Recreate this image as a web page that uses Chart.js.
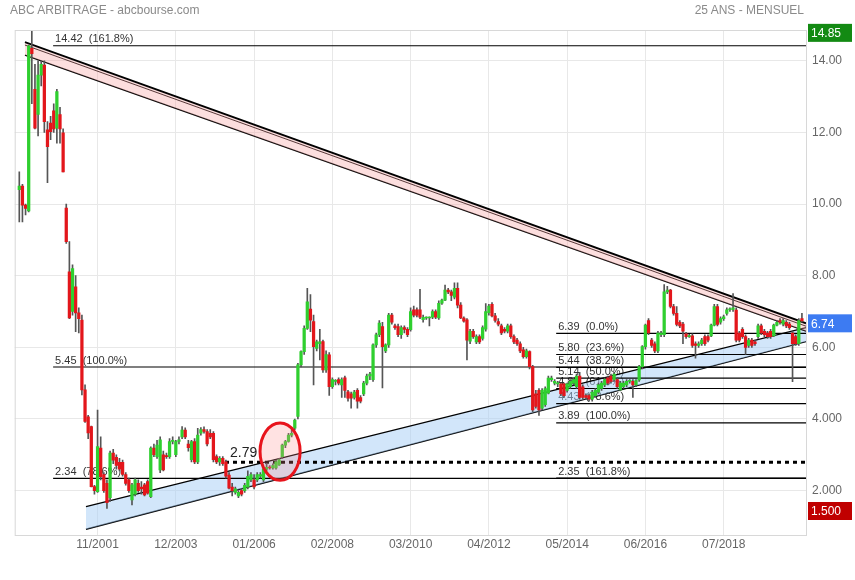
<!DOCTYPE html>
<html>
<head>
<meta charset="utf-8">
<script src="https://cdn.jsdelivr.net/npm/chart.js@4.4.0/dist/chart.umd.min.js"></script>
<style>
    html, body { margin: 0; padding: 0; background: #fff; }
    #wrap { position: relative; width: 855px; height: 580px; }
    .hdr { position: absolute; top: 3px; font: 12px "Liberation Sans", Arial, sans-serif; color: #8a8a8a; }
</style>
</head>
<body>
<div id="wrap">
    <canvas id="chart" width="855" height="580"></canvas>
    <div class="hdr" style="left:10px">ABC ARBITRAGE - abcbourse.com</div>
    <div class="hdr" style="right:51px">25 ANS - MENSUEL</div>
</div>
<script>
// cours mensuels, index 0 = 10/1999
const open = [
    10.4, 10.5, 9.97, 9.81, 14.35, 13.2, 12.5, 13.6, 13.88, 12.07,
    12.26, 12.6, 12.12, 12.5, 11.99, 9.89, 8.11, 7.0, 7.69, 6.96,
    6.76, 4.81, 4.06, 3.79, 2.11, 1.97, 3.19, 2.45, 2.2, 1.8,
    3.05, 2.93, 2.79, 2.79, 2.45, 2.3, 1.74, 1.9, 2.2, 2.1,
    2.16, 2.25, 1.83, 3.19, 2.95, 2.58, 3.0, 2.98, 2.95, 3.37,
    3.0, 3.37, 3.5, 3.69, 3.3, 2.86, 3.37, 2.8, 3.6, 3.7,
    3.65, 3.6, 3.6, 2.95, 2.8, 2.9, 2.8, 2.43, 2.1, 1.95,
    1.85, 2.0, 2.0, 2.1, 2.3, 2.3, 2.3, 2.4, 2.3, 2.6,
    2.65, 2.63, 2.63, 2.72, 2.95, 3.27, 3.37, 3.55, 3.74, 4.07,
    5.51, 5.88, 6.53, 7.07, 6.72, 5.97, 6.1, 6.16, 5.37, 5.79,
    4.9, 5.05, 5.1, 4.95, 5.15, 4.76, 4.7, 4.6, 4.8, 4.6,
    4.7, 5.0, 5.2, 5.1, 6.07, 6.35, 6.58, 5.9, 6.07, 6.9,
    6.6, 6.58, 6.35, 6.55, 6.5, 6.49, 7.05, 7.05, 7.05, 6.77,
    6.82, 6.82, 6.84, 7.0, 6.82, 7.23, 7.32, 7.6, 7.55, 7.4,
    7.65, 7.18, 6.82, 6.77, 6.17, 6.45, 6.15, 6.3, 6.25, 6.51,
    6.97, 7.2, 6.88, 6.72, 6.6, 6.5, 6.45, 6.6, 6.3, 6.2,
    6.1, 5.93, 5.74, 5.88, 5.46, 4.7, 4.8, 4.3, 4.4, 4.72,
    5.1, 5.0, 4.98, 4.98, 4.98, 4.8, 4.9, 5.0, 4.9, 5.2,
    4.9, 4.65, 4.65, 4.55, 4.65, 4.75, 4.85, 4.95, 5.15, 5.2,
    5.1, 5.1, 4.81, 4.9, 4.95, 5.05, 5.05, 4.95, 5.09, 5.46,
    6.02, 6.75, 6.2, 6.1, 5.9, 6.35, 6.35, 7.55, 7.6, 7.14,
    6.95, 6.7, 6.65, 6.38, 6.3, 6.32, 6.1, 6.05, 6.1, 6.3,
    6.3, 6.32, 6.62, 7.14, 6.7, 6.8, 6.95, 7.05, 7.06, 7.04,
    6.4, 6.5, 6.3, 6.05, 6.2, 6.15, 6.3, 6.6, 6.45, 6.4,
    6.45, 6.32, 6.62, 6.75, 6.65, 6.7, 6.65, 6.4, 6.3, 6.1,
    6.8
];
const high = [
    10.9, 10.55, 10.0, 14.44, 14.85, 13.9, 14.0, 14.0, 14.0, 12.3,
    12.45, 12.8, 13.2, 12.7, 12.1, 10.0, 8.95, 8.3, 8.0, 7.1,
    6.9, 4.95, 4.1, 3.8, 2.15, 4.25, 3.5, 2.5, 2.3, 3.1,
    3.15, 3.0, 2.9, 2.85, 2.5, 2.35, 2.2, 2.35, 2.3, 2.25,
    2.2, 2.3, 3.22, 3.3, 3.4, 3.5, 3.1, 3.05, 3.45, 3.5,
    3.4, 3.5, 3.79, 3.75, 3.4, 3.4, 3.45, 3.74, 3.76, 3.78,
    3.7, 3.7, 3.65, 3.0, 2.95, 2.95, 2.85, 2.5, 2.2, 2.1,
    2.0, 2.05, 2.2, 2.55, 2.5, 2.45, 2.5, 2.5, 2.65, 2.75,
    2.7, 2.75, 2.85, 2.9, 3.3, 3.4, 3.6, 3.7, 4.0, 5.55,
    5.9, 6.6, 7.65, 7.47, 6.9, 6.2, 6.5, 6.2, 5.9, 5.85,
    5.15, 5.1, 5.15, 5.15, 5.2, 4.8, 4.75, 4.8, 4.85, 4.65,
    5.05, 5.25, 5.3, 6.1, 6.4, 6.75, 6.7, 6.1, 6.95, 6.95,
    6.65, 6.65, 6.6, 6.6, 6.55, 7.1, 7.15, 7.1, 7.62, 6.9,
    6.85, 6.85, 7.05, 7.05, 7.3, 7.35, 7.74, 7.65, 7.6, 7.8,
    7.8, 7.25, 6.85, 6.8, 6.5, 6.5, 6.35, 6.35, 6.6, 7.22,
    7.2, 7.25, 6.95, 6.8, 6.65, 6.55, 6.65, 6.65, 6.35, 6.25,
    6.15, 6.0, 5.95, 5.9, 5.5, 4.8, 4.85, 4.85, 4.9, 5.2,
    5.2, 5.1, 5.05, 5.0, 5.0, 5.0, 5.1, 5.15, 5.25, 5.3,
    4.95, 4.7, 4.7, 4.8, 4.85, 5.0, 5.05, 5.15, 5.2, 5.25,
    5.3, 5.15, 5.05, 5.05, 5.1, 5.1, 5.1, 5.1, 5.5, 6.05,
    6.65, 6.8, 6.25, 6.15, 6.45, 6.45, 7.75, 7.7, 7.62, 7.2,
    7.14, 6.75, 6.7, 6.42, 6.36, 6.38, 6.15, 6.15, 6.25, 6.35,
    6.35, 6.65, 7.2, 7.2, 6.85, 6.9, 7.1, 7.1, 7.5, 7.1,
    6.45, 6.55, 6.35, 6.25, 6.25, 6.2, 6.65, 6.65, 6.5, 6.45,
    6.5, 6.65, 6.75, 6.8, 6.8, 6.75, 6.7, 6.45, 6.35, 6.8,
    6.95
];
const low = [
    9.5, 9.5, 9.7, 9.78, 12.8, 12.1, 11.9, 13.3, 12.0, 10.6,
    11.8, 12.0, 11.7, 11.7, 10.9, 8.9, 6.8, 6.9, 6.44, 6.4,
    4.67, 3.9, 3.45, 2.1, 1.9, 1.95, 2.3, 1.95, 1.5, 1.7,
    2.75, 2.6, 2.55, 2.4, 2.15, 1.95, 1.6, 1.85, 1.95, 1.9,
    1.85, 1.9, 1.8, 2.95, 2.9, 2.5, 2.55, 2.9, 2.9, 3.3,
    2.95, 3.3, 3.45, 3.45, 3.1, 2.8, 2.75, 2.75, 3.55, 3.6,
    3.25, 3.45, 2.8, 2.75, 2.7, 2.7, 2.35, 2.05, 1.85, 1.9,
    1.8, 1.85, 1.95, 2.05, 2.25, 2.05, 2.25, 2.35, 2.25, 2.55,
    2.6, 2.6, 2.6, 2.7, 2.9, 3.2, 3.35, 3.5, 3.7, 4.0,
    5.45, 5.8, 6.5, 6.44, 4.95, 5.9, 5.65, 5.3, 5.3, 4.66,
    4.85, 4.95, 4.95, 4.6, 4.6, 4.5, 4.3, 4.55, 4.3, 4.45,
    4.65, 4.95, 5.1, 5.05, 6.0, 6.3, 4.87, 5.85, 6.0, 6.65,
    6.5, 6.3, 6.25, 6.4, 6.3, 6.45, 6.85, 6.85, 6.8, 6.7,
    6.78, 6.6, 6.8, 6.8, 6.78, 7.2, 7.3, 7.5, 7.3, 7.35,
    7.1, 6.8, 6.7, 5.65, 6.1, 6.25, 6.1, 6.1, 6.2, 6.45,
    6.9, 6.85, 6.7, 6.6, 6.35, 6.4, 6.4, 6.25, 6.1, 6.05,
    5.85, 5.7, 5.7, 5.4, 4.2, 4.3, 4.1, 4.25, 4.35, 4.7,
    5.05, 4.95, 4.9, 4.65, 4.6, 4.75, 4.85, 4.95, 4.85, 4.55,
    4.55, 4.55, 4.5, 4.5, 4.6, 4.7, 4.8, 4.9, 4.95, 5.0,
    5.05, 4.85, 4.78, 4.85, 4.9, 5.0, 4.6, 4.9, 5.05, 5.4,
    5.95, 6.35, 6.0, 5.85, 5.85, 6.3, 6.3, 7.5, 7.1, 6.9,
    6.6, 6.55, 6.1, 6.25, 6.28, 6.0, 5.7, 6.0, 6.05, 6.05,
    6.15, 6.3, 6.6, 6.6, 6.65, 6.75, 6.9, 7.0, 7.0, 6.15,
    6.15, 6.25, 5.8, 6.0, 6.0, 6.05, 6.25, 6.35, 6.3, 6.25,
    6.25, 6.3, 6.6, 6.65, 6.6, 6.55, 6.5, 5.04, 6.05, 6.05,
    6.7
];
const close = [
    10.5, 9.97, 9.88, 14.42, 14.2, 12.12, 13.6, 13.9, 12.3, 11.6,
    12.02, 12.1, 13.14, 12.1, 10.9, 8.95, 6.82, 8.2, 6.96, 6.8,
    4.81, 3.93, 3.61, 2.11, 2.0, 3.23, 2.39, 2.0, 1.66, 3.05,
    2.85, 2.7, 2.6, 2.45, 2.2, 2.0, 2.16, 2.3, 2.0, 2.05,
    1.88, 1.93, 3.19, 3.0, 3.27, 3.42, 2.58, 2.95, 3.37, 3.4,
    3.37, 3.42, 3.69, 3.5, 3.2, 3.37, 2.8, 3.55, 3.7, 3.65,
    3.3, 3.5, 2.86, 2.8, 2.9, 2.75, 2.4, 2.07, 2.0, 2.05,
    1.95, 1.9, 2.15, 2.4, 2.45, 2.1, 2.45, 2.45, 2.6, 2.65,
    2.63, 2.7, 2.8, 2.86, 3.27, 3.37, 3.55, 3.6, 3.97, 5.51,
    5.88, 6.53, 7.27, 6.76, 6.02, 6.15, 6.15, 5.37, 5.8, 4.9,
    5.1, 5.07, 5.0, 5.1, 4.8, 4.58, 4.58, 4.75, 4.5, 4.5,
    5.0, 5.2, 5.25, 6.07, 6.35, 6.68, 6.02, 6.07, 6.9, 6.7,
    6.55, 6.35, 6.55, 6.5, 6.35, 7.0, 6.9, 6.9, 6.84, 6.84,
    6.83, 6.83, 7.0, 6.84, 7.23, 7.32, 7.6, 7.55, 7.45, 7.65,
    7.18, 6.82, 6.73, 6.2, 6.45, 6.3, 6.3, 6.15, 6.55, 7.0,
    7.15, 6.88, 6.75, 6.65, 6.4, 6.45, 6.6, 6.3, 6.15, 6.1,
    5.9, 5.74, 5.9, 5.46, 4.25, 4.35, 4.25, 4.8, 4.85, 5.14,
    5.14, 5.05, 5.0, 4.7, 4.65, 4.98, 5.05, 5.1, 5.2, 4.6,
    4.6, 4.6, 4.55, 4.75, 4.8, 4.95, 5.0, 5.1, 5.0, 5.05,
    5.25, 4.9, 5.0, 5.0, 5.05, 5.07, 4.95, 5.07, 5.46, 6.02,
    6.62, 6.4, 6.05, 5.9, 6.4, 6.4, 7.55, 7.6, 7.14, 6.95,
    6.64, 6.6, 6.45, 6.3, 6.32, 6.05, 6.05, 6.1, 6.2, 6.1,
    6.2, 6.62, 7.14, 6.64, 6.8, 6.85, 7.05, 7.06, 7.1, 6.2,
    6.2, 6.3, 6.0, 6.2, 6.05, 6.1, 6.6, 6.4, 6.35, 6.3,
    6.3, 6.62, 6.7, 6.7, 6.75, 6.6, 6.55, 6.1, 6.1, 6.75,
    6.74
];

const xTickMonths = [25, 50, 75, 100, 125, 150, 175, 200, 225];
const xTickLabels = ['11/2001', '12/2003', '01/2006', '02/2008', '03/2010', '04/2012', '05/2014', '06/2016', '07/2018'];
const yTicks = [2, 4, 6, 8, 10, 12, 14];
const yTickLabels = ['2.000', '4.000', '6.00', '8.00', '10.00', '12.00', '14.00'];

// retracements de Fibonacci
const fibLeftStart = 10.8;
const fibLeftLevels = [14.42, 5.45, 2.34];
const fibLeftPct = ['161.8%', '100.0%', '78.6%'];
const fibRightStart = 171.5;
const fibRightLevels = [6.39, 5.80, 5.44, 5.14, 4.85, 4.43, 3.89, 2.35];
const fibRightPct = ['0.0%', '23.6%', '38.2%', '50.0%', '61.8%', '78.6%', '100.0%', '161.8%'];

// lignes de tendance [mois, cours]
const resistTop = [[1.8, 14.52], [251.3, 6.67]];
const resistTop2 = [[1.8, 14.44], [251.3, 6.59]];
const resistBottom = [[1.8, 14.16], [251.3, 6.45]];
const supportTop = [[21.3, 1.55], [251.3, 6.55]];
const supportBottom = [[21.3, 0.92], [251.3, 6.16]];

const breakLevel = 2.79;
const breakStart = 65.7;
const circleCenter = [83.3, 3.09];
const circleRadius = [6.4, 0.8];

const X_MIN = -1.47, X_MAX = 251.3;
const Y_MIN = 0.76, Y_MAX = 14.86;

const UP = '#2fcf2f', DOWN = '#e3161b';
const FONT = "'Liberation Sans', Arial, sans-serif";

const pts = arr => arr.map(p => ({ x: p[0], y: p[1] }));
const trend = (arr, extra) => Object.assign({
    type: 'line', data: pts(arr), borderColor: '#000', borderWidth: 1.2,
    pointRadius: 0, fill: false, order: 3
}, extra || {});
// lignes horizontales dessinées après les remplissages des canaux
const hline = (start, level, extra) => trend([[start, level], [X_MAX, level]], Object.assign({ borderWidth: 1.2, order: 2 }, extra || {}));

const datasets = [
    {
        type: 'bar', grouped: false, order: 0, barThickness: 2.6, minBarLength: 1,
        data: open.map((o, i) => ({ x: i, y: [o, close[i]] })),
        backgroundColor: open.map((o, i) => close[i] >= o ? UP : DOWN)
    },
    {
        type: 'bar', grouped: false, order: 1, barThickness: 1,
        data: low.map((l, i) => ({ x: i, y: [l, high[i]] })),
        backgroundColor: '#555'
    },
    trend(resistTop, { borderWidth: 1.8, fill: '+1', backgroundColor: 'rgba(245,160,160,0.35)' }),
    trend(resistBottom),
    trend(resistTop2, { borderWidth: 1 }),
    trend(supportTop, { fill: '+1', backgroundColor: 'rgba(165,205,245,0.5)' }),
    trend(supportBottom, { borderWidth: 1.4 }),
    hline(breakStart, breakLevel, { borderWidth: 3, borderDash: [4, 4] })
];
fibLeftLevels.forEach(v => datasets.push(hline(fibLeftStart, v)));
fibRightLevels.forEach(v => datasets.push(hline(fibRightStart, v)));

const overlay = {
    id: 'overlay',
    beforeDatasetsDraw(chart) {
        const { ctx, scales: { x, y } } = chart;
        ctx.save();
        ctx.font = '11px ' + FONT;
        ctx.fillStyle = '#333';
        ctx.textBaseline = 'bottom';
        fibLeftLevels.forEach((v, i) => {
            ctx.fillText(v.toFixed(2) + '  (' + fibLeftPct[i] + ')', x.getPixelForValue(fibLeftStart) + 2, y.getPixelForValue(v) - 1);
        });
        fibRightLevels.forEach((v, i) => {
            ctx.fillText(v.toFixed(2) + '  (' + fibRightPct[i] + ')', x.getPixelForValue(fibRightStart) + 2, y.getPixelForValue(v) - 1);
        });
        ctx.restore();
    },
    afterDatasetsDraw(chart) {
        const { ctx, scales: { x, y } } = chart;
        ctx.save();
        // cercle rouge
        const cx = x.getPixelForValue(circleCenter[0]);
        const cy = y.getPixelForValue(circleCenter[1]);
        const rx = x.getPixelForValue(circleCenter[0] + circleRadius[0]) - cx;
        const ry = cy - y.getPixelForValue(circleCenter[1] + circleRadius[1]);
        ctx.beginPath();
        ctx.ellipse(cx, cy, rx, ry, 0, 0, Math.PI * 2);
        ctx.fillStyle = 'rgba(255,140,140,0.25)';
        ctx.fill();
        ctx.lineWidth = 3;
        ctx.strokeStyle = '#e8141c';
        ctx.stroke();
        // niveau 2.79
        ctx.font = '14px ' + FONT;
        ctx.fillStyle = '#222';
        ctx.textBaseline = 'bottom';
        ctx.fillText(breakLevel.toFixed(2), x.getPixelForValue(breakStart) + 5, y.getPixelForValue(breakLevel) - 2);
        ctx.restore();
    },
    afterDraw(chart) {
        const { ctx, chartArea: a, scales: { y } } = chart;
        ctx.save();
        ctx.strokeStyle = '#d8d8d8';
        ctx.lineWidth = 1;
        ctx.strokeRect(a.left + 0.5, a.top + 0.5, a.right - a.left, a.bottom - a.top);
        const box = (val, txt, color) => {
            const cy = y.getPixelForValue(val) + 2.5;
            ctx.fillStyle = color;
            ctx.fillRect(a.right + 2, cy - 9, 44, 18);
            ctx.fillStyle = '#fff';
            ctx.font = '12px ' + FONT;
            ctx.textBaseline = 'middle';
            ctx.fillText(txt, a.right + 5, cy + 1);
        };
        box(Math.max(...high), Math.max(...high).toFixed(2), '#138a13');
        box(close[close.length - 1], close[close.length - 1].toFixed(2), '#3d7bf2');
        box(Math.min(...low), Math.min(...low).toFixed(3), '#c00000');
        ctx.restore();
    }
};

Chart.defaults.font.family = FONT;

new Chart(document.getElementById('chart').getContext('2d'), {
    type: 'bar',
    data: { datasets: datasets },
    plugins: [overlay],
    options: {
        responsive: false,
        animation: false,
        devicePixelRatio: 1,
        layout: { padding: { left: 14.7, top: 30, right: 0, bottom: 0 } },
        plugins: { legend: { display: false }, tooltip: { enabled: false } },
        scales: {
            x: {
                type: 'linear', min: X_MIN, max: X_MAX, offset: false,
                afterBuildTicks: axis => { axis.ticks = xTickMonths.map(v => ({ value: v })); },
                afterFit: axis => { axis.height = 45; },
                grid: { color: '#e8e8e8', drawTicks: false, offset: false },
                border: { display: false },
                ticks: { color: '#666', font: { size: 12 }, padding: 2, maxRotation: 0, callback: (v, i) => xTickLabels[i] }
            },
            y: {
                position: 'right', min: Y_MIN, max: Y_MAX,
                afterBuildTicks: axis => { axis.ticks = yTicks.map(v => ({ value: v })); },
                afterFit: axis => { axis.width = 49; },
                grid: { color: '#e8e8e8', drawTicks: false },
                border: { display: false },
                ticks: { color: '#666', font: { size: 12 }, padding: 6, callback: (v, i) => yTickLabels[i] }
            }
        }
    }
});
</script>
</body>
</html>
